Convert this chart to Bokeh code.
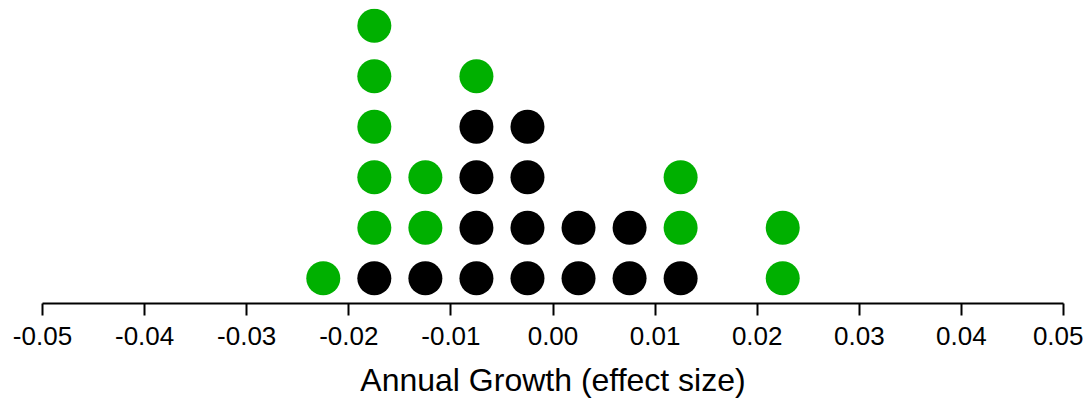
from bokeh.plotting import figure
from bokeh.models import Range1d, FixedTicker
from bokeh.embed import file_html
from bokeh.resources import INLINE

# Bin centers (effect size) and counts per group
bin_centers = [-0.0225, -0.0175, -0.0125, -0.0075, -0.0025, 0.0025, 0.0075, 0.0125, 0.0225]
black_counts = [0, 1, 1, 4, 4, 2, 2, 1, 0]
green_counts = [1, 5, 2, 1, 0, 0, 0, 2, 2]
tick_values = [-0.05, -0.04, -0.03, -0.02, -0.01, 0.0, 0.01, 0.02, 0.03, 0.04, 0.05]
tick_labels = ["-0.05", "-0.04", "-0.03", "-0.02", "-0.01", "0.00", "0.01", "0.02", "0.03", "0.04", "0.05"]

bx, by, gx, gy = [], [], [], []
for c, nb, ng in zip(bin_centers, black_counts, green_counts):
    for k in range(nb):
        bx.append(c); by.append(k)
    for k in range(ng):
        gx.append(c); gy.append(nb + k)

p = figure(frame_width=1021, frame_height=295, output_backend="svg", toolbar_location=None,
           x_range=Range1d(-0.05, 0.05), y_range=Range1d(-0.5, 5.34),
           y_axis_location=None, min_border_left=42, min_border_right=20,
           min_border_top=8, min_border_bottom=0)
p.outline_line_color = None
p.xgrid.visible = False
p.ygrid.visible = False

p.scatter(bx, by, size=34, fill_color="#000000", line_color=None)
p.scatter(gx, gy, size=34, fill_color="#00b000", line_color=None)

ax = p.xaxis[0]
ax.ticker = FixedTicker(ticks=tick_values)
ax.major_label_overrides = {v: l for v, l in zip(tick_values, tick_labels)}
ax.axis_line_width = 2
ax.axis_line_color = "#000000"
ax.major_tick_line_width = 2
ax.major_tick_line_color = "#000000"
ax.major_tick_in = 0
ax.major_tick_out = 12
ax.minor_tick_line_color = None
ax.major_label_text_font = "Liberation Sans"
ax.major_label_text_font_size = "26px"
ax.major_label_text_color = "#000000"
ax.major_label_standoff = 11
ax.axis_label = "Annual Growth (effect size)"
ax.axis_label_text_font = "Liberation Sans"
ax.axis_label_text_font_size = "32px"
ax.axis_label_text_font_style = "normal"
ax.axis_label_text_color = "#000000"
ax.axis_label_standoff = 14

open("out.html", "w").write(file_html(p, INLINE))
